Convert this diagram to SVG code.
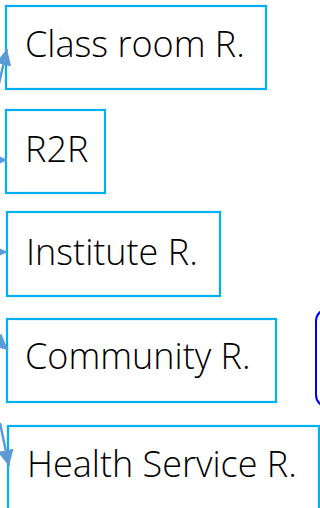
<svg xmlns="http://www.w3.org/2000/svg" width="320" height="508" viewBox="0 0 320 508">
  <style>
    .box { fill: #ffffff; stroke: #00b0f0; stroke-width: 2.2; }
    .lbl { font-family: "Open Sans", "Noto Sans", sans-serif; font-size: 36px; font-weight: 300; fill: #000000; }
    .edge { fill: none; stroke: #5b9bd5; stroke-width: 2.5; }
  </style>
  <defs>
    <marker id="head" markerUnits="userSpaceOnUse" markerWidth="18" markerHeight="16" refX="16" refY="8" orient="auto">
      <path d="M0,0 L16,8 L0,16 Z" fill="#5b9bd5"/>
    </marker>
  </defs>
  <rect width="320" height="508" fill="#ffffff"/>

  <!-- side panel, partly outside the frame -->
  <g id="side-panel">
    <rect x="316" y="309" width="60" height="98" rx="12" fill="#ffffff" stroke="#0000ff" stroke-width="2"/>
  </g>

  <g id="class-room">
    <rect class="box" x="6" y="6" width="260" height="83"/>
    <text class="lbl" x="25" y="57">Class room R.</text>
  </g>
  <g id="r2r">
    <rect class="box" x="6" y="110" width="99" height="83"/>
    <text class="lbl" x="25" y="162">R2R</text>
  </g>
  <g id="institute">
    <rect class="box" x="7" y="212" width="213" height="84"/>
    <text class="lbl" x="26" y="265">Institute R.</text>
  </g>
  <g id="community">
    <rect class="box" x="7" y="319" width="269" height="83"/>
    <text class="lbl" x="25" y="369">Community R.</text>
  </g>
  <g id="health-service">
    <rect class="box" x="8" y="426" width="311" height="90"/>
    <text class="lbl" x="27" y="477">Health Service R.</text>
  </g>

  <g id="connectors">
    <path class="edge" d="M-3,92 L7,49" marker-end="url(#head)"/>
    <path class="edge" d="M-20,160 L7,160" marker-end="url(#head)"/>
    <path class="edge" d="M-20,252 L7,252" marker-end="url(#head)"/>
    <path class="edge" d="M-15,330 L8,350" marker-end="url(#head)"/>
    <path class="edge" d="M0,423 L9,466" marker-end="url(#head)"/>
  </g>
</svg>
